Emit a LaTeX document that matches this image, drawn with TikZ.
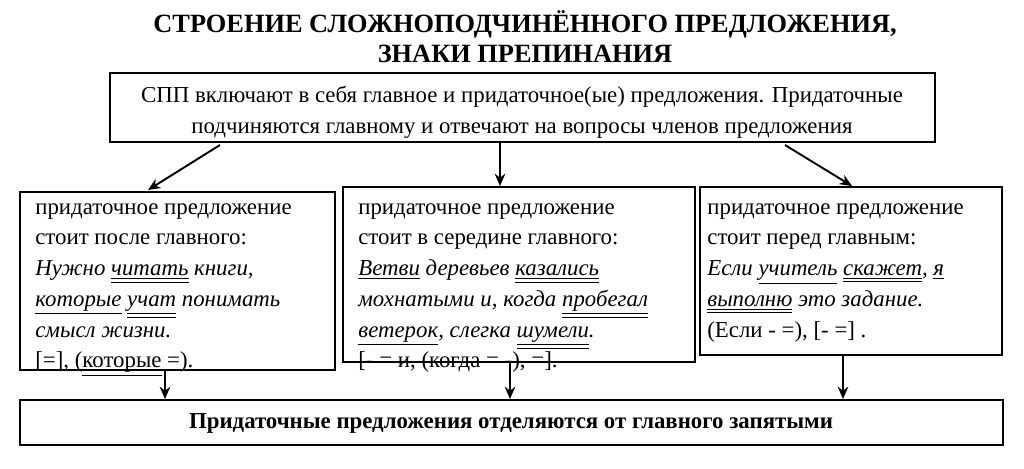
\documentclass[tikz,border=0pt]{standalone}
\usepackage{fontspec}
\setmainfont{Liberation Serif}
\usetikzlibrary{arrows.meta}
\newcommand{\subj}[1]{$\underline{\hbox{#1}}$}
\newcommand{\pred}[1]{$\underline{\underline{\hbox{#1}}}$}
\tikzset{
  box/.style={draw, line width=1.1pt, inner sep=0pt},
  txt/.style={anchor=north west, align=left, inner sep=0pt, font=\fontsize{13}{17.5}\selectfont},
  arr/.style={-{Stealth[length=7pt,width=6pt]}, line width=1.1pt}
}
\begin{document}
\begin{tikzpicture}[x=0.02cm,y=-0.02cm]
  \useasboundingbox (0,0) rectangle (1024,468);
  % title
  \node (title) at (525,37) [align=center, font=\bfseries\fontsize{15}{17}\selectfont]
    {СТРОЕНИЕ СЛОЖНОПОДЧИНЁННОГО ПРЕДЛОЖЕНИЯ,\\ЗНАКИ ПРЕПИНАНИЯ};

  % boxes
  \draw [box] (110,73) rectangle (935,142);
  \node (top) at (522,112) [align=center, font=\fontsize{13}{17.5}\selectfont]
    {СПП включают в себя главное и придаточное(ые) предложения. Придаточные\\
     подчиняются главному и отвечают на вопросы членов предложения};

  \draw [box] (20,192) rectangle (335,370);
  \draw [box] (343,187) rectangle (695,362);
  \draw [box] (700,187) rectangle (1002,355);
  \draw [box] (20,400) rectangle (1003,445);

  \node (left) at (35,203) [txt] {придаточное предложение\\
    стоит после главного:\\
    \textit{Нужно \pred{читать} книги,}\\
    \textit{\subj{которые} \pred{учат} понимать}\\
    \textit{смысл жизни.}\\
    {[}=], (\subj{которые} =).};

  \node (mid) at (358,203) [txt] {придаточное предложение\\
    стоит в середине главного:\\
    \textit{\subj{Ветви} деревьев \pred{казались}}\\
    \textit{мохнатыми и, когда \pred{пробегал}}\\
    \textit{\subj{ветерок}, слегка \pred{шумели}.}\\
    {[}- = и, (когда = -), =].};

  \node (right) at (707,203) [txt] {придаточное предложение\\
    стоит перед главным:\\
    \textit{Если \subj{учитель} \pred{скажет}, \subj{я}}\\
    \textit{\pred{выполню} это задание.}\\
    (Если - =), [- =] .};

  \node (bottom) at (511,423) [font=\bfseries\fontsize{13}{15}\selectfont]
    {Придаточные предложения отделяются от главного запятыми};

  % arrows
  \draw [arr] (220,145) -- (148,190);
  \draw [arr] (500,142) -- (500,186);
  \draw [arr] (785,145) -- (852,186);
  \draw [arr] (165,370) -- (165,399);
  \draw [arr] (510,362) -- (510,399);
  \draw [arr] (843,355) -- (843,399);
\end{tikzpicture}
\end{document}
